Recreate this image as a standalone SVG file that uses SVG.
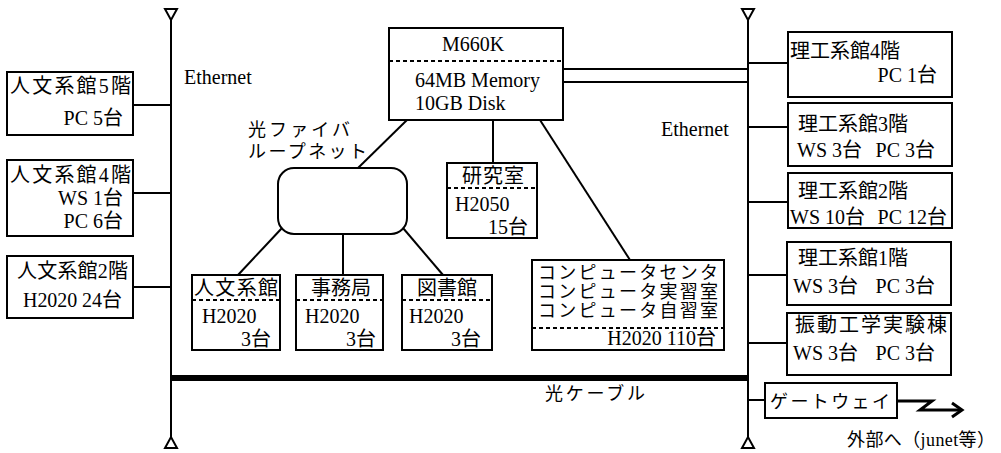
<svg xmlns="http://www.w3.org/2000/svg" width="1001" height="453" viewBox="0 0 1001 453">
<style>
  .bx{fill:#fff;stroke:#000;stroke-width:2}
  .ln{stroke:#000;stroke-width:2;fill:none}
  .ds{stroke:#000;stroke-width:2;stroke-dasharray:4 3;fill:none}
  .tri{fill:#fff;stroke:#000;stroke-width:2}
  text{font-family:"Liberation Serif","Noto Sans CJK JP",serif;font-size:20px;fill:#000}
  .k{font-size:17px}
  .k18{font-size:18px}
  .e{text-anchor:end}
  .m{text-anchor:middle}
</style>
<rect width="1001" height="453" fill="#fff"/>
<g id="connectors">
  <line class="ln" x1="171" y1="20" x2="171" y2="437"/>
  <line class="ln" x1="748" y1="20" x2="748" y2="437"/>
  <polygon class="tri" points="165,9 177,9 171,20"/>
  <polygon class="tri" points="165,448 177,448 171,437"/>
  <polygon class="tri" points="742,9 754,9 748,20"/>
  <polygon class="tri" points="742,448 754,448 748,437"/>
  <line x1="171" y1="378" x2="748" y2="378" stroke="#000" stroke-width="6"/>
  <line class="ln" x1="133" y1="105" x2="171" y2="105"/>
  <line class="ln" x1="133" y1="193" x2="171" y2="193"/>
  <line class="ln" x1="133" y1="287" x2="171" y2="287"/>
  <line class="ln" x1="748" y1="63" x2="788" y2="63"/>
  <line class="ln" x1="748" y1="127" x2="788" y2="127"/>
  <line class="ln" x1="748" y1="202" x2="788" y2="202"/>
  <line class="ln" x1="748" y1="275" x2="787" y2="275"/>
  <line class="ln" x1="748" y1="343" x2="787" y2="343"/>
  <line class="ln" x1="748" y1="400" x2="765" y2="400"/>
  <line class="ln" x1="563" y1="69" x2="748" y2="69"/>
  <line class="ln" x1="563" y1="82" x2="748" y2="82"/>
  <line class="ln" x1="407" y1="120" x2="358" y2="168"/>
  <line class="ln" x1="493" y1="120" x2="493" y2="163"/>
  <line class="ln" x1="540" y1="120" x2="630" y2="260"/>
  <line class="ln" x1="282" y1="228" x2="238" y2="275"/>
  <line class="ln" x1="343" y1="234" x2="343" y2="275"/>
  <line class="ln" x1="403" y1="228" x2="443" y2="275"/>
  <polyline fill="none" stroke="#000" stroke-width="3" points="897,401 932,401 920,410 960,410"/>
  <polyline fill="none" stroke="#000" stroke-width="3" points="952,403 962,410 952,417"/>
</g>
<g id="labels">
  <text x="184" y="84">Ethernet</text>
  <text x="661" y="136">Ethernet</text>
  <text class="k18" x="248" y="136" textLength="102" lengthAdjust="spacing">光ファイバ</text>
  <text class="k18" x="248" y="158" textLength="119" lengthAdjust="spacing">ループネット</text>
  <text class="k18" x="545" y="400" textLength="100" lengthAdjust="spacing">光ケーブル</text>
  <text class="k18" x="847" y="446" textLength="148" lengthAdjust="spacing">外部へ（junet等）</text>
</g>
<g id="n-jinbun5">
  <rect class="bx" x="7" y="72" width="126" height="63"/>
  <text x="10" y="93" textLength="121" lengthAdjust="spacing">人文系館5階</text>
  <text class="e" x="123" y="125">PC 5台</text>
</g>
<g id="n-jinbun4">
  <rect class="bx" x="7" y="160" width="126" height="76"/>
  <text x="10" y="182" textLength="121" lengthAdjust="spacing">人文系館4階</text>
  <text class="e" x="123" y="205">WS 1台</text>
  <text class="e" x="123" y="228">PC 6台</text>
</g>
<g id="n-jinbun2">
  <rect class="bx" x="7" y="256" width="126" height="62"/>
  <text x="17" y="278" textLength="111" lengthAdjust="spacing">人文系館2階</text>
  <text x="23" y="307" textLength="99" lengthAdjust="spacing">H2020 24台</text>
</g>
<g id="n-m660k">
  <rect class="bx" x="389" y="28" width="174" height="92"/>
  <line class="ds" x1="389" y1="61" x2="563" y2="61"/>
  <text class="m" x="473" y="51">M660K</text>
  <text x="415" y="87">64MB Memory</text>
  <text x="415" y="110">10GB Disk</text>
</g>
<g id="n-loop">
  <rect class="bx" x="278" y="168" width="129" height="66" rx="16"/>
</g>
<g id="n-kenkyu">
  <rect class="bx" x="447" y="163" width="90" height="75"/>
  <line class="ds" x1="447" y1="188" x2="537" y2="188"/>
  <text class="m" x="493" y="183" textLength="62" lengthAdjust="spacing">研究室</text>
  <text x="455" y="211">H2050</text>
  <text class="e" x="528" y="234">15台</text>
</g>
<g id="n-jinbun">
  <rect class="bx" x="192" y="275" width="88" height="75"/>
  <line class="ds" x1="192" y1="300" x2="280" y2="300"/>
  <text x="194" y="295" textLength="84" lengthAdjust="spacing">人文系館</text>
  <text x="202" y="323">H2020</text>
  <text class="e" x="271" y="346">3台</text>
</g>
<g id="n-jimu">
  <rect class="bx" x="296" y="275" width="87" height="75"/>
  <line class="ds" x1="296" y1="300" x2="383" y2="300"/>
  <text class="m" x="341" y="295" textLength="60" lengthAdjust="spacing">事務局</text>
  <text x="305" y="323">H2020</text>
  <text class="e" x="376" y="346">3台</text>
</g>
<g id="n-tosho">
  <rect class="bx" x="402" y="275" width="90" height="75"/>
  <line class="ds" x1="402" y1="300" x2="492" y2="300"/>
  <text class="m" x="447" y="295" textLength="60" lengthAdjust="spacing">図書館</text>
  <text x="409" y="323">H2020</text>
  <text class="e" x="481" y="346">3台</text>
</g>
<g id="n-center">
  <rect class="bx" x="532" y="260" width="192" height="90"/>
  <text class="k18" x="538" y="279" textLength="180" lengthAdjust="spacing">コンピュータセンタ</text>
  <text class="k18" x="538" y="298" textLength="180" lengthAdjust="spacing">コンピュータ実習室</text>
  <text class="k18" x="538" y="317" textLength="180" lengthAdjust="spacing">コンピュータ自習室</text>
  <line class="ds" x1="532" y1="328" x2="724" y2="328"/>
  <text class="e" x="716" y="345">H2020 110台</text>
</g>
<g id="n-riko4">
  <rect class="bx" x="788" y="32" width="164" height="65"/>
  <text x="790" y="58">理工系館4階</text>
  <text class="e" x="937" y="82">PC 1台</text>
</g>
<g id="n-riko3">
  <rect class="bx" x="788" y="103" width="164" height="63"/>
  <text x="798" y="131">理工系館3階</text>
  <text x="797" y="157">WS 3台</text>
  <text class="e" x="935" y="157">PC 3台</text>
</g>
<g id="n-riko2">
  <rect class="bx" x="788" y="173" width="164" height="55"/>
  <text x="798" y="198">理工系館2階</text>
  <text x="790" y="224">WS 10台</text>
  <text class="e" x="947" y="224">PC 12台</text>
</g>
<g id="n-riko1">
  <rect class="bx" x="787" y="242" width="164" height="63"/>
  <text x="798" y="265">理工系館1階</text>
  <text x="793" y="293">WS 3台</text>
  <text class="e" x="935" y="293">PC 3台</text>
</g>
<g id="n-shindo">
  <rect class="bx" x="787" y="313" width="164" height="62"/>
  <text x="795" y="332" textLength="152" lengthAdjust="spacing">振動工学実験棟</text>
  <text x="793" y="360">WS 3台</text>
  <text class="e" x="935" y="360">PC 3台</text>
</g>
<g id="n-gateway">
  <rect class="bx" x="765" y="383" width="132" height="35"/>
  <text class="k18" x="770" y="408" textLength="120" lengthAdjust="spacing">ゲートウェイ</text>
</g>
</svg>
